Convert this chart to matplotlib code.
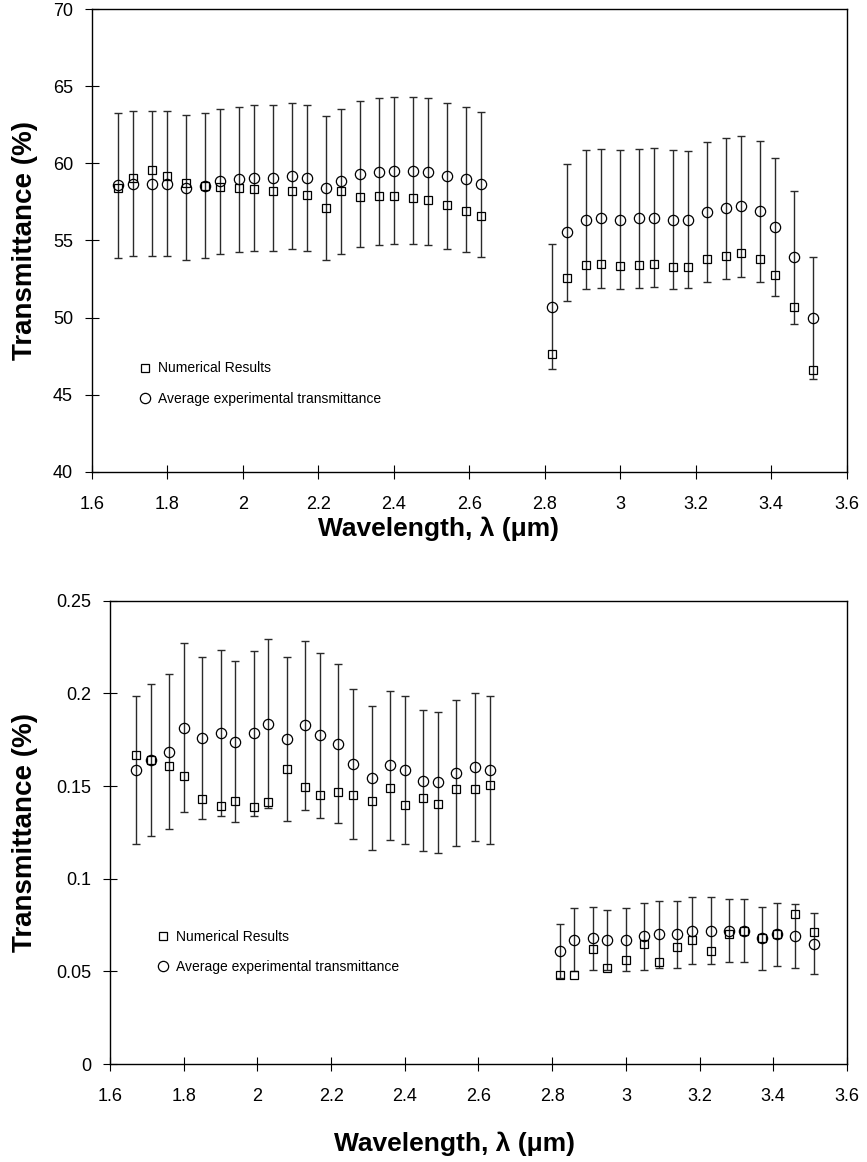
import matplotlib
matplotlib.use("Agg")
import matplotlib.pyplot as plt
from matplotlib.lines import Line2D

plt.rcParams['font.family'] = ['Liberation Sans', 'DejaVu Sans']

# ---- data ----
wl_a = [1.67, 1.71, 1.76, 1.80, 1.85, 1.90, 1.94, 1.99, 2.03, 2.08, 2.13, 2.17, 2.22,
        2.26, 2.31, 2.36, 2.40, 2.45, 2.49, 2.54, 2.59, 2.63]
wl_b = [2.82, 2.86, 2.91, 2.95, 3.00, 3.05, 3.09, 3.14, 3.18, 3.23, 3.28, 3.32, 3.37,
        3.41, 3.46, 3.51]

# top panel
top_num_a = [58.38, 59.03, 59.55, 59.20, 58.72, 58.55, 58.48, 58.42, 58.31, 58.18, 58.18,
             57.92, 57.10, 58.18, 57.81, 57.88, 57.88, 57.75, 57.60, 57.27, 56.90, 56.58]
top_exp_a = [58.57, 58.68, 58.68, 58.68, 58.42, 58.55, 58.83, 58.96, 59.03, 59.06, 59.20,
             59.06, 58.42, 58.83, 59.29, 59.45, 59.52, 59.52, 59.45, 59.20, 58.96, 58.64]
top_err_a = [4.70, 4.70, 4.70, 4.70, 4.70, 4.70, 4.70, 4.71, 4.74, 4.74, 4.73, 4.74, 4.66,
             4.70, 4.74, 4.77, 4.76, 4.76, 4.77, 4.73, 4.73, 4.70]
top_num_b = [47.66, 52.57, 53.40, 53.46, 53.33, 53.40, 53.46, 53.27, 53.27, 53.79, 53.98,
             54.18, 53.79, 52.75, 50.71, 46.62]
top_exp_b = [50.69, 55.52, 56.36, 56.43, 56.36, 56.43, 56.49, 56.36, 56.36, 56.84, 57.08,
             57.21, 56.90, 55.86, 53.92, 49.97]
top_err_b = [4.05, 4.46, 4.50, 4.53, 4.50, 4.50, 4.53, 4.50, 4.47, 4.55, 4.59, 4.59, 4.58,
             4.48, 4.31, 3.98]

# bottom panel
bot_num_a = [0.1665, 0.1641, 0.1607, 0.1553, 0.1429, 0.1391, 0.1420, 0.1386, 0.1413, 0.1591,
             0.1496, 0.1451, 0.1467, 0.1451, 0.1418, 0.1489, 0.1397, 0.1435, 0.1402, 0.1483,
             0.1483, 0.1505]
bot_exp_a = [0.1586, 0.1641, 0.1686, 0.1814, 0.1760, 0.1784, 0.1739, 0.1784, 0.1836, 0.1755,
             0.1827, 0.1773, 0.1729, 0.1618, 0.1543, 0.1611, 0.1589, 0.1530, 0.1521, 0.1570,
             0.1602, 0.1586]
bot_err_a = [0.0399, 0.0410, 0.0420, 0.0456, 0.0438, 0.0448, 0.0434, 0.0446, 0.0457, 0.0441,
             0.0455, 0.0445, 0.0430, 0.0404, 0.0389, 0.0404, 0.0399, 0.0383, 0.0380, 0.0393,
             0.0401, 0.0400]
bot_num_b = [0.048, 0.048, 0.062, 0.052, 0.056, 0.065, 0.055, 0.063, 0.067, 0.061, 0.070,
             0.072, 0.068, 0.070, 0.081, 0.071]
bot_exp_b = [0.061, 0.067, 0.068, 0.067, 0.067, 0.069, 0.070, 0.070, 0.072, 0.072, 0.072,
             0.072, 0.068, 0.070, 0.069, 0.065]
bot_err_b = [0.0145, 0.017, 0.017, 0.016, 0.017, 0.018, 0.018, 0.018, 0.018, 0.018, 0.017,
             0.017, 0.017, 0.017, 0.0172, 0.0164]

x_ticks = [1.6, 1.8, 2.0, 2.2, 2.4, 2.6, 2.8, 3.0, 3.2, 3.4, 3.6]
x_ticklabels = ["1.6", "1.8", "2", "2.2", "2.4", "2.6", "2.8", "3", "3.2", "3.4", "3.6"]
top_yticks = [40, 45, 50, 55, 60, 65, 70]
top_yticklabels = ["40", "45", "50", "55", "60", "65", "70"]
bot_yticks = [0, 0.05, 0.1, 0.15, 0.2, 0.25]
bot_yticklabels = ["0", "0.05", "0.1", "0.15", "0.2", "0.25"]

legend_labels = ["Numerical Results", "Average experimental transmittance"]
x_label = "Wavelength, \u03bb (\u03bcm)"
y_label = "Transmittance (%)"

W, H = 867, 1162
fig = plt.figure(figsize=(W / 100, H / 100), dpi=100)
ax1 = fig.add_axes([0.1061, 0.5941, 0.8705, 0.3979])
ax2 = fig.add_axes([0.1269, 0.0843, 0.8500, 0.3987])

SQ = 5.4
CI = 7.4


def draw(ax, wa, na, ea, ra, wb, nb, eb, rb, yticks, yticklabels, ylim, leg_anchor):
    for w, n, e, r in ((wa, na, ea, ra), (wb, nb, eb, rb)):
        ax.errorbar(w, e, yerr=r, fmt='none', ecolor='#2a2a2a', elinewidth=1.0,
                    capsize=2.6, capthick=1.0, zorder=2)
        ax.plot(w, n, linestyle='none', marker='s', markersize=SQ, markerfacecolor='none',
                markeredgecolor='black', markeredgewidth=0.9, zorder=3)
        ax.plot(w, e, linestyle='none', marker='o', markersize=CI, markerfacecolor='none',
                markeredgecolor='black', markeredgewidth=0.9, zorder=3)
    ax.set_xlim(1.6, 3.6)
    ax.set_ylim(*ylim)
    ax.set_xticks(x_ticks)
    ax.set_xticklabels(x_ticklabels)
    ax.set_yticks(yticks)
    ax.set_yticklabels(yticklabels)
    ax.tick_params(direction='inout', length=10, width=0.8, labelsize=13, colors='black')
    ax.tick_params(axis='y', pad=8.6)
    ax.tick_params(axis='x', pad=12.5)
    for s in ax.spines.values():
        s.set_linewidth(1.0)
        s.set_color('black')
    handles = [Line2D([], [], linestyle='none', marker='s', markersize=SQ,
                      markerfacecolor='none', markeredgecolor='black', markeredgewidth=0.9),
               Line2D([], [], linestyle='none', marker='o', markersize=CI,
                      markerfacecolor='none', markeredgecolor='black', markeredgewidth=0.9)]
    ax.legend(handles, legend_labels, loc='center left', bbox_to_anchor=leg_anchor,
              frameon=False, fontsize=10, handlelength=0.6, handletextpad=0.63,
              labelspacing=1.2, borderaxespad=0, borderpad=0)


draw(ax1, wl_a, top_num_a, top_exp_a, top_err_a, wl_b, top_num_b, top_exp_b, top_err_b,
     top_yticks, top_yticklabels, (40, 70), (0.0647, 0.190))
draw(ax2, wl_a, bot_num_a, bot_exp_a, bot_err_a, wl_b, bot_num_b, bot_exp_b, bot_err_b,
     bot_yticks, bot_yticklabels, (0, 0.25), (0.066, 0.242))

# axis titles placed at the reference pixel positions
fig.text(438 / W, 1 - 529 / H, x_label, fontsize=19, fontweight='bold',
         ha='center', va='center')
fig.text(455 / W, 1 - 1144 / H, x_label, fontsize=19, fontweight='bold',
         ha='center', va='center')
fig.text(25 / W, 1 - 240.5 / H, y_label, fontsize=20, fontweight='bold',
         ha='center', va='center', rotation=90)
fig.text(25 / W, 1 - 832 / H, y_label, fontsize=20, fontweight='bold',
         ha='center', va='center', rotation=90)

fig.savefig("out.png", dpi=100)
